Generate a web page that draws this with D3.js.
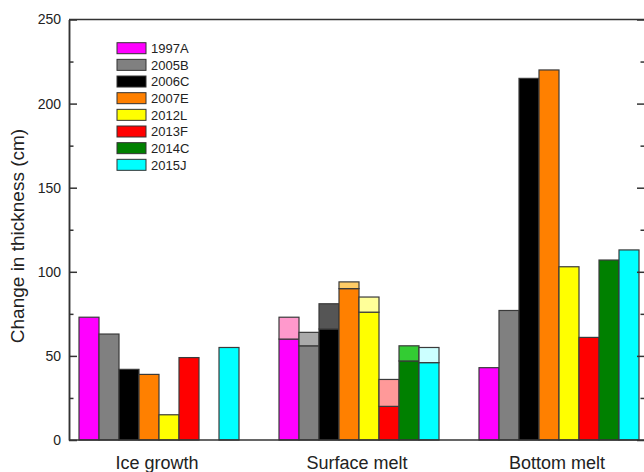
<!DOCTYPE html>
<html>
<head>
<meta charset="utf-8">
<script src="https://cdn.jsdelivr.net/npm/d3@7/dist/d3.min.js"></script>
<style>
  html, body { margin: 0; padding: 0; background: #fff; }
  svg { display: block; font-family: Arial, "Liberation Sans", sans-serif; }
</style>
</head>
<body>
<svg id="chart" width="644" height="472"></svg>
<script>
// Processes of ice thickness change, per buoy deployment
const categories = ["Ice growth", "Surface melt", "Bottom melt"];
const series = ["1997A", "2005B", "2006C", "2007E", "2012L", "2013F", "2014C", "2015J"];
const colors = ["#ff00ff", "#808080", "#000000", "#ff8000", "#ffff00", "#ff0000", "#008000", "#00ffff"];
const lightColors = ["#ff99cc", "#aaaaaa", "#555555", "#ffcc66", "#ffff99", "#ff9999", "#33cc33", "#ccffff"];

const iceGrowth = [73, 63, 42, 39, 15, 49, null, 55];
const surfaceMeltLower = [60, 56, 66, 90, 76, 20, 47, 46];
const surfaceMeltTotal = [73, 64, 81, 94, 85, 36, 56, 55];
const bottomMelt = [43, 77, 215, 220, 103, 61, 107, 113];

const yMajorTicks = [0, 50, 100, 150, 200, 250];
const yMinorTicks = [25, 75, 125, 175, 225];

const svg = d3.select("#chart");
const plotLeft = 69, plotRight = 645, plotTop = 19.5, plotBottom = 440;

const x0 = d3.scaleBand().domain(categories).range([59, 659]).paddingInner(0.2).paddingOuter(0.1);
const x1 = d3.scaleBand().domain(series).range([0, x0.bandwidth()]);
const y = d3.scaleLinear().domain([0, 250]).range([plotBottom, plotTop]);

// Bars: each segment is [category, series index, from, to, fill]
const segments = [];
series.forEach((s, j) => {
  if (iceGrowth[j] != null) segments.push([categories[0], j, 0, iceGrowth[j], colors[j]]);
  segments.push([categories[1], j, 0, surfaceMeltLower[j], colors[j]]);
  segments.push([categories[1], j, surfaceMeltLower[j], surfaceMeltTotal[j], lightColors[j]]);
  segments.push([categories[2], j, 0, bottomMelt[j], colors[j]]);
});

svg.append("g").selectAll("rect").data(segments).join("rect")
  .attr("x", d => x0(d[0]) + x1(series[d[1]]))
  .attr("width", x1.bandwidth())
  .attr("y", d => y(d[3]))
  .attr("height", d => y(d[2]) - y(d[3]))
  .attr("fill", d => d[4])
  .attr("stroke", "#3a3a3a")
  .attr("stroke-width", 1.2);

// Frame
const axisColor = "#333";
svg.append("line").attr("x1", plotLeft).attr("x2", plotRight).attr("y1", plotTop).attr("y2", plotTop)
  .attr("stroke", axisColor).attr("stroke-width", 1.5);
svg.append("line").attr("x1", plotLeft).attr("x2", plotRight).attr("y1", plotBottom).attr("y2", plotBottom)
  .attr("stroke", axisColor).attr("stroke-width", 1.5);

function styleAxis(g) {
  g.select(".domain").attr("stroke", axisColor).attr("stroke-width", 1.5);
  g.selectAll(".tick line").attr("stroke", axisColor).attr("stroke-width", 1.5);
  g.selectAll(".tick text").attr("fill", "#222").style("font-size", "14px")
    .style("font-family", "Arial, 'Liberation Sans', sans-serif");
}

// Left axis: major ticks with labels, inward
svg.append("g").attr("transform", `translate(${plotLeft},0)`)
  .call(d3.axisLeft(y).tickValues(yMajorTicks).tickSize(-8).tickPadding(8).tickSizeOuter(0))
  .call(styleAxis);
svg.append("g").attr("transform", `translate(${plotLeft},0)`)
  .call(d3.axisLeft(y).tickValues(yMinorTicks).tickSize(-4.5).tickFormat("").tickSizeOuter(0))
  .call(styleAxis);

// Right axis: ticks only, inward
svg.append("g").attr("transform", `translate(${plotRight},0)`)
  .call(d3.axisRight(y).tickValues(yMajorTicks).tickSize(-8).tickFormat("").tickSizeOuter(0))
  .call(styleAxis);
svg.append("g").attr("transform", `translate(${plotRight},0)`)
  .call(d3.axisRight(y).tickValues(yMinorTicks).tickSize(-4.5).tickFormat("").tickSizeOuter(0))
  .call(styleAxis);

// Category labels
svg.append("g").selectAll("text").data(categories).join("text")
  .attr("x", d => x0(d) + x0.bandwidth() / 2 - 2)
  .attr("y", 469)
  .attr("text-anchor", "middle")
  .attr("fill", "#222")
  .style("font-size", "18px")
  .text(d => d);

// Y axis title
svg.append("text")
  .attr("transform", "translate(24,236) rotate(-90)")
  .attr("text-anchor", "middle")
  .attr("fill", "#222")
  .style("font-size", "19px")
  .text("Change in thickness (cm)");

// Legend
const legend = svg.append("g").selectAll("g").data(series).join("g")
  .attr("transform", (d, i) => `translate(117,${42.7 + i * 16.66})`);
legend.append("rect")
  .attr("width", 29).attr("height", 11)
  .attr("fill", (d, i) => colors[i])
  .attr("stroke", "#333").attr("stroke-width", 1);
legend.append("text")
  .attr("x", 34).attr("y", 10.2)
  .attr("fill", "#222")
  .style("font-size", "13px")
  .text(d => d);
</script>
</body>
</html>
